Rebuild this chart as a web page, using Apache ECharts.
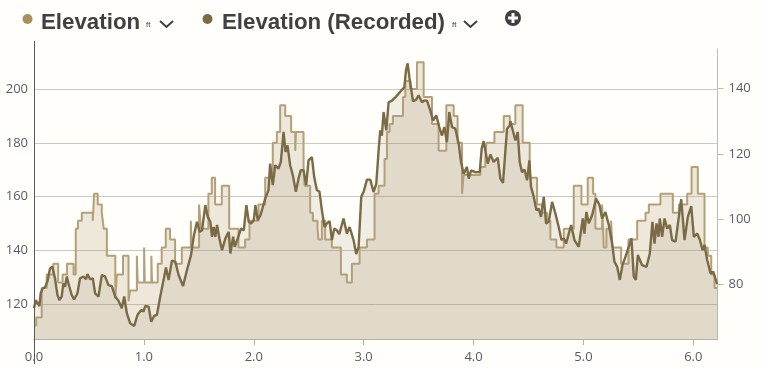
<!DOCTYPE html>
<html>
<head>
<meta charset="utf-8">
<title>Elevation</title>
<script src="https://cdn.jsdelivr.net/npm/echarts@6/dist/echarts.min.js"></script>
<style>
html,body{margin:0;padding:0;background:#fffefa;}
#chart{width:762px;height:368px;}
</style>
</head>
<body>
<div id="chart"></div>
<script>
// elevation, stepped (left axis, ft)
var stepDist = [0,.02,.07,.115,.175,.22,.26,.30,.36,.38,.40,.435,.535,.547,.58,.617,.635,.663,.74,.754,.81,.86,.875,.936,.944,1.002,1.008,1.068,1.074,1.126,1.162,1.199,1.238,1.284,1.345,1.427,1.435,1.502,1.52,1.587,1.618,1.648,1.709,1.776,1.861,1.921,1.961,2.043,2.104,2.173,2.210,2.240,2.286,2.340,2.377,2.385,2.453,2.462,2.513,2.538,2.580,2.589,2.620,2.650,2.711,2.793,2.847,2.893,2.963,3.030,3.099,3.136,3.190,3.212,3.236,3.266,3.358,3.379,3.424,3.485,3.546,3.622,3.682,3.752,3.819,3.855,3.895,3.910,4.062,4.107,4.117,4.19,4.275,4.33,4.38,4.447,4.511,4.578,4.624,4.670,4.699,4.754,4.821,4.912,4.982,5.039,5.088,5.109,5.170,5.185,5.209,5.252,5.264,5.343,5.410,5.489,5.565,5.595,5.701,5.814,5.868,5.944,5.984,6.041,6.102,6.132,6.163,6.193,6.22];
var stepFeet = [112,115,126,131,135,128,131,135,131,148,151,154,151,161,157,154,148,138,122,131,138,121,125,138,128,141,128,138,128,135,141,148,144,135,141,151,141,157,148,161,167,157,164,148,141,144,151,157,167,180,184,194,190,184,177,184,171,164,154,151,148,144,151,144,141,131,128,135,141,144,161,164,174,184,187,190,197,203,200,210,197,187,177,194,190,180,161,168,171,174,180,184,190,187,194,180,167,157,154,151,144,141,148,164,157,167,161,148,157,141,148,151,141,135,144,151,154,157,161,154,157,161,171,161,141,138,131,126,126];

// elevation as recorded (right axis)
var recDist = [0,.015,.033,.049,.061,.079,.100,.122,.146,.167,.191,.213,.231,.252,.267,.283,.298,.322,.343,.365,.395,.419,.450,.474,.486,.511,.535,.556,.587,.617,.647,.678,.708,.739,.769,.799,.821,.845,.875,.912,.942,.976,.997,1.012,1.043,1.067,1.094,1.119,1.149,1.179,1.201,1.225,1.255,1.286,1.316,1.356,1.392,1.429,1.453,1.483,1.508,1.529,1.559,1.581,1.605,1.620,1.635,1.650,1.666,1.687,1.711,1.742,1.772,1.787,1.812,1.827,1.854,1.884,1.909,1.933,1.954,1.976,2.000,2.015,2.036,2.061,2.104,2.134,2.149,2.173,2.195,2.225,2.246,2.271,2.289,2.307,2.331,2.356,2.383,2.407,2.428,2.453,2.477,2.498,2.529,2.550,2.574,2.598,2.620,2.644,2.665,2.690,2.711,2.732,2.756,2.778,2.817,2.847,2.872,2.884,2.908,2.932,2.954,2.978,2.999,3.030,3.060,3.090,3.115,3.136,3.151,3.166,3.181,3.206,3.227,3.257,3.288,3.318,3.348,3.370,3.385,3.400,3.418,3.449,3.476,3.500,3.531,3.552,3.576,3.606,3.631,3.661,3.688,3.713,3.734,3.758,3.779,3.804,3.834,3.865,3.886,3.910,3.940,3.956,3.977,4.016,4.056,4.074,4.092,4.107,4.129,4.153,4.183,4.220,4.244,4.268,4.290,4.305,4.329,4.335,4.381,4.402,4.420,4.441,4.463,4.487,4.508,4.523,4.548,4.572,4.593,4.614,4.639,4.660,4.684,4.715,4.745,4.775,4.800,4.821,4.842,4.888,4.918,4.957,4.994,5.009,5.027,5.049,5.079,5.115,5.146,5.170,5.200,5.231,5.261,5.282,5.307,5.331,5.355,5.383,5.437,5.458,5.477,5.495,5.534,5.574,5.604,5.628,5.647,5.665,5.683,5.695,5.716,5.738,5.762,5.786,5.807,5.838,5.868,5.890,5.920,5.950,5.981,6.005,6.035,6.060,6.084,6.102,6.126,6.157,6.181,6.217];
var recValues = [72.7,75.2,75.0,73.4,77.3,78.8,79.1,80.9,84.9,85.4,81.9,76.8,75.2,76.3,80.3,79.3,82.4,79.3,76.8,75.4,77.3,81.9,82.4,81.6,83.2,81.6,81.9,77.3,76.3,82.9,82.4,79.8,79.5,76.3,75.0,72.7,76.3,71.2,68.1,67.3,70.7,72.2,71.7,73.4,73.2,68.6,70.4,70.7,76.3,81.4,85.2,81.4,87.3,87.0,82.9,79.5,84.4,89.0,94.6,99.2,96.1,96.6,104.3,100.7,99.2,94.6,97.6,94.6,98.2,94.1,90.5,94.1,96.1,89.5,94.6,91.5,94.1,97.1,96.6,104.3,99.2,98.7,99.7,104.3,99.7,101.2,106.3,108.9,117.0,110.4,116.5,115.5,117.5,126.7,120.6,122.6,116.5,113.4,108.4,112.4,115.0,115.0,110.4,118.0,119.0,112.9,108.9,108.4,102.7,97.6,98.7,99.4,93.6,97.1,96.6,95.4,100.2,95.6,97.6,98.2,93.6,89.3,91.5,106.8,108.3,112.1,112.1,108.3,110.9,121.1,127.2,125.6,132.8,127.2,135.8,136.3,137.3,138.4,139.6,140.4,145.5,147.7,143.0,136.1,136.5,137.9,135.8,136.3,136.3,133.3,130.2,131.8,128.2,125.6,128.2,123.6,132.8,128.2,127.7,123.1,117.5,113.9,116.0,112.4,114.9,114.4,114.4,121.6,123.9,121.1,117.0,119.8,117.5,118.8,112.4,111.1,121.1,127.7,128.7,130,124.1,126.7,117.5,114.4,115.2,111.9,118.0,109.9,106.8,102.7,103.2,100.7,106.8,98.7,99.2,105.3,101.7,97.6,93.6,94.1,92.5,98.2,93.6,91.5,100.2,95.6,102.2,98.7,101.2,106.3,104.3,100.2,102.2,98.2,92.5,87.0,85.4,81.4,85.9,88.5,94.1,82.4,81.4,89.0,85.9,85.4,89.5,99.2,92.5,98.7,94.6,100.2,94.6,100.2,97.1,98.2,93.6,93.1,100.7,106.1,93.6,100.7,104.0,94.6,95.6,93.6,90.5,92.1,87.5,83.4,83.9,80.1];

// tick labels
var distTicks = [0,1,2,3,4,5,6];
var leftTicks = [120,140,160,180,200];
var rightTicks = [80,100,120,140];

var stepColor = '#a88f5c';
var recColor = '#7a6a45';
var labelColor = '#555e66';

function zip(xs, ys){
	var out = [];
	for (var i = 0; i < xs.length; i++) {
		out.push([xs[i], ys[i]]);
	}
	return out;
}

function headerText(x, y, text, size, bold){
	return {
		type: 'text', x: x, y: y, silent: true,
		style: {
			text: text, fill: '#404040',
			font: (bold ? 'bold ' : '') + size + 'px "Liberation Sans", Arial, sans-serif'
		}
	};
}

function chevron(x){
	return {
		type: 'polyline', silent: true,
		shape: { points: [[x, 21], [x + 6.5, 27], [x + 13, 21]] },
		style: { stroke: '#404040', lineWidth: 2, fill: 'none' }
	};
}

var myChart = echarts.init(document.getElementById('chart'), null, { renderer: 'canvas' });

var option = {
	animation: false,
	backgroundColor: '#fffefa',
	grid: { left: 34, right: 44.5, top: 49, bottom: 29, containLabel: false },
	xAxis: {
		type: 'value',
		min: 0,
		max: 6.22,
		axisLine: { onZero: false, lineStyle: { color: '#b4b0a6' } },
		axisTick: { length: 6, lineStyle: { color: '#b4b0a6' }, customValues: distTicks },
		axisLabel: {
			customValues: distTicks, margin: 12,
			color: labelColor, fontFamily: 'Open Sans', fontSize: 13,
			formatter: function(v){ return v.toFixed(1); }
		},
		splitLine: { show: false }
	},
	yAxis: [
		{
			type: 'value',
			min: 107,
			max: 214.9,
			axisLine: { show: false },
			axisTick: { show: false, customValues: leftTicks },
			axisLabel: { customValues: leftTicks, margin: 6, color: labelColor, fontFamily: 'Open Sans', fontSize: 13 },
			splitLine: { show: true, lineStyle: { color: '#ccc9c0', width: 1 } }
		},
		{
			type: 'value',
			position: 'right',
			min: 63.3,
			max: 152.1,
			axisLine: { show: true, onZero: false, lineStyle: { color: '#bdbcb4' } },
			axisTick: { show: true, length: 6, lineStyle: { color: '#bdbcb4' }, customValues: rightTicks },
			axisLabel: { customValues: rightTicks, margin: 11, color: labelColor, fontFamily: 'Open Sans', fontSize: 13 },
			splitLine: { show: false }
		}
	],
	series: [
		{
			name: 'Elevation',
			type: 'line',
			yAxisIndex: 0,
			step: 'end',
			showSymbol: false,
			data: zip(stepDist, stepFeet),
			lineStyle: { color: '#b3a079', width: 2 },
			areaStyle: { color: stepColor, opacity: 0.2, origin: 'start' }
		},
		{
			name: 'Elevation (Recorded)',
			type: 'line',
			yAxisIndex: 1,
			showSymbol: false,
			data: zip(recDist, recValues),
			lineStyle: { color: recColor, width: 2.4 },
			areaStyle: { color: recColor, opacity: 0.115, origin: 'start' }
		}
	],
	graphic: [
		// left axis line runs past the plot at both ends
		{ type: 'line', silent: true, z: 10, shape: { x1: 34.5, y1: 41, x2: 34.5, y2: 364 }, style: { stroke: '#5c5a4e', lineWidth: 1 } },
		{ type: 'circle', silent: true, shape: { cx: 27.5, cy: 19, r: 5 }, style: { fill: stepColor } },
		headerText(41, 12, 'Elevation', 22.3, true),
		headerText(146, 21, 'ft', 8, false),
		chevron(160),
		{ type: 'circle', silent: true, shape: { cx: 207.5, cy: 19, r: 5 }, style: { fill: recColor } },
		headerText(222, 12, 'Elevation (Recorded)', 22.3, true),
		headerText(452, 21, 'ft', 8, false),
		chevron(464),
		{ type: 'circle', silent: true, shape: { cx: 513, cy: 18, r: 8 }, style: { fill: '#404040' } },
		{ type: 'rect', silent: true, shape: { x: 508, y: 16.5, width: 10, height: 3 }, style: { fill: '#fffefa' } },
		{ type: 'rect', silent: true, shape: { x: 511.5, y: 13, width: 3, height: 10 }, style: { fill: '#fffefa' } }
	]
};

myChart.setOption(option);
</script>
</body>
</html>
